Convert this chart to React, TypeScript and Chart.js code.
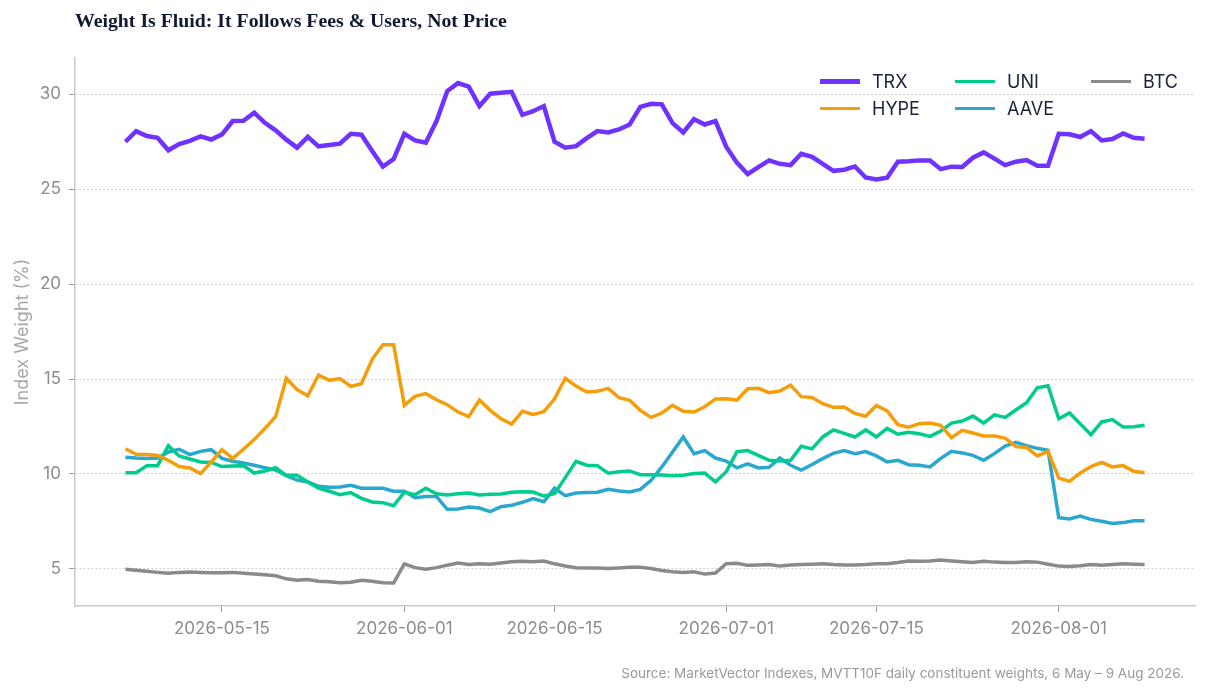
import { useEffect, useRef } from 'react'
import Chart from 'chart.js/auto'

const seriesNames = ['TRX', 'HYPE', 'UNI', 'AAVE', 'BTC']
const seriesColors = ['#7033FF', '#F59E0B', '#00CC8E', '#2AA7CE', '#8A8A8A']
const seriesWidths = [4.5, 3.5, 3.5, 3.5, 3.5]

const trx = [
  27.49, 28.05, 27.79, 27.7, 27.04, 27.37, 27.54, 27.77, 27.61, 27.88, 28.58, 28.6, 29.02, 28.49, 28.09, 27.6,
  27.18, 27.75, 27.25, 27.32, 27.39, 27.91, 27.86, 27.0, 26.18, 26.58, 27.91, 27.56, 27.44, 28.58, 30.16, 30.58,
  30.39, 29.37, 30.02, 30.07, 30.12, 28.91, 29.1, 29.37, 27.49, 27.18, 27.26, 27.68, 28.05, 27.98, 28.14, 28.4,
  29.33, 29.49, 29.46, 28.47, 27.98, 28.68, 28.4, 28.58, 27.23, 26.39, 25.79, 26.16, 26.51, 26.33, 26.26, 26.86,
  26.7, 26.32, 25.96, 26.02, 26.19, 25.61, 25.51, 25.6, 26.44, 26.46, 26.51, 26.51, 26.05, 26.18, 26.16, 26.65,
  26.93, 26.6, 26.26, 26.44, 26.53, 26.23, 26.23, 27.91, 27.88, 27.74, 28.05, 27.56, 27.63, 27.93, 27.7, 27.65,
]
const hype = [
  11.33, 11.04, 11.02, 10.98, 10.72, 10.39, 10.32, 10.02, 10.63, 11.28, 10.82, 11.3, 11.81, 12.39, 13.02, 15.04,
  14.44, 14.12, 15.21, 14.93, 15.02, 14.61, 14.75, 16.04, 16.81, 16.81, 13.61, 14.09, 14.23, 13.91, 13.65, 13.26,
  13.02, 13.89, 13.35, 12.91, 12.63, 13.3, 13.14, 13.28, 13.96, 15.04, 14.63, 14.32, 14.35, 14.51, 14.02, 13.88,
  13.35, 12.98, 13.21, 13.61, 13.3, 13.26, 13.54, 13.95, 13.96, 13.89, 14.49, 14.51, 14.28, 14.37, 14.68, 14.07,
  14.03, 13.7, 13.51, 13.53, 13.19, 13.04, 13.61, 13.32, 12.6, 12.46, 12.65, 12.68, 12.56, 11.91, 12.3, 12.16,
  12.0, 12.0, 11.89, 11.44, 11.4, 10.95, 11.19, 9.79, 9.61, 10.05, 10.39, 10.61, 10.37, 10.44, 10.14, 10.07,
]
const uni = [
  10.07, 10.07, 10.44, 10.44, 11.49, 10.95, 10.79, 10.63, 10.61, 10.39, 10.42, 10.44, 10.05, 10.16, 10.33, 9.93,
  9.93, 9.58, 9.26, 9.09, 8.91, 9.02, 8.72, 8.53, 8.49, 8.33, 9.04, 8.91, 9.25, 8.96, 8.89, 8.96,
  9.0, 8.89, 8.93, 8.95, 9.04, 9.07, 9.05, 8.84, 8.96, 9.81, 10.67, 10.46, 10.44, 10.04, 10.12, 10.16,
  9.96, 9.96, 9.95, 9.91, 9.93, 10.02, 10.05, 9.58, 10.12, 11.18, 11.23, 10.98, 10.72, 10.68, 10.72, 11.46,
  11.32, 11.95, 12.32, 12.14, 11.95, 12.32, 11.96, 12.4, 12.09, 12.19, 12.12, 11.98, 12.26, 12.68, 12.79, 13.05,
  12.68, 13.11, 12.98, 13.37, 13.75, 14.54, 14.65, 12.91, 13.21, 12.65, 12.07, 12.74, 12.86, 12.47, 12.49, 12.56,
]
const aave = [
  10.88, 10.84, 10.82, 10.84, 11.16, 11.3, 11.02, 11.19, 11.28, 10.82, 10.67, 10.58, 10.46, 10.33, 10.21, 9.91,
  9.68, 9.58, 9.35, 9.3, 9.32, 9.4, 9.25, 9.25, 9.25, 9.09, 9.09, 8.75, 8.81, 8.81, 8.14, 8.16,
  8.26, 8.21, 8.02, 8.28, 8.35, 8.51, 8.7, 8.54, 9.25, 8.86, 9.0, 9.02, 9.04, 9.19, 9.11, 9.05,
  9.19, 9.67, 10.37, 11.16, 11.95, 11.07, 11.23, 10.84, 10.68, 10.32, 10.53, 10.32, 10.35, 10.84, 10.46, 10.21,
  10.5, 10.81, 11.09, 11.23, 11.07, 11.18, 10.95, 10.63, 10.72, 10.49, 10.46, 10.37, 10.82, 11.19, 11.11, 10.98,
  10.72, 11.07, 11.47, 11.67, 11.49, 11.35, 11.25, 7.7, 7.63, 7.79, 7.61, 7.51, 7.39, 7.44, 7.54, 7.54,
]
const btc = [
  4.98, 4.93, 4.88, 4.82, 4.77, 4.82, 4.84, 4.82, 4.8, 4.8, 4.82, 4.77, 4.73, 4.69, 4.64, 4.48,
  4.4, 4.44, 4.35, 4.33, 4.28, 4.3, 4.4, 4.35, 4.28, 4.26, 5.27, 5.07, 4.98, 5.07, 5.2, 5.31,
  5.24, 5.27, 5.25, 5.31, 5.38, 5.4, 5.38, 5.42, 5.27, 5.16, 5.07, 5.05, 5.05, 5.02, 5.05, 5.09,
  5.09, 5.02, 4.92, 4.85, 4.81, 4.85, 4.73, 4.79, 5.28, 5.3, 5.19, 5.21, 5.23, 5.15, 5.21, 5.23,
  5.25, 5.27, 5.23, 5.21, 5.21, 5.23, 5.27, 5.28, 5.34, 5.42, 5.4, 5.42, 5.47, 5.42, 5.38, 5.34,
  5.4, 5.36, 5.34, 5.34, 5.38, 5.36, 5.25, 5.15, 5.13, 5.17, 5.23, 5.19, 5.23, 5.28, 5.25, 5.23,
]
const seriesValues = [trx, hype, uni, aave, btc]

// x is days since 6 May
const xTickDays = [9, 26, 40, 56, 70, 87]
const xTickLabels = ['2026-05-15', '2026-06-01', '2026-06-15', '2026-07-01', '2026-07-15', '2026-08-01']
const yTicks = [5, 10, 15, 20, 25, 30]

const titleText = 'Weight Is Fluid: It Follows Fees & Users, Not Price'
const sourceText = 'Source: MarketVector Indexes, MVTT10F daily constituent weights, 6 May – 9 Aug 2026.'

const uiFont = 'Inter, sans-serif'
const axisColor = '#C9C9C9'
const tickTextColor = '#8C8C8C'

function App() {
  const canvasRef = useRef<HTMLCanvasElement | null>(null)

  useEffect(() => {
    if (!canvasRef.current) {
      return undefined
    }

    const chart = new Chart(canvasRef.current, {
      type: 'line',
      data: {
        datasets: seriesNames.map((name, s) => ({
          label: name,
          data: seriesValues[s].map((value, day) => ({ x: day, y: value })),
          borderColor: seriesColors[s],
          backgroundColor: seriesColors[s],
          borderWidth: seriesWidths[s],
          pointRadius: 0,
          tension: 0,
        })),
      },
      options: {
        animation: false,
        responsive: false,
        layout: { padding: { top: 58, right: 13, left: 0, bottom: 0 } },
        plugins: {
          legend: { display: false },
          tooltip: { enabled: false },
        },
        scales: {
          x: {
            type: 'linear',
            min: -4.7,
            max: 99.7,
            afterBuildTicks: (scale) => {
              scale.ticks = xTickDays.map((day) => ({ value: day }))
            },
            afterFit: (scale) => {
              scale.height = 88
            },
            ticks: {
              autoSkip: false,
              maxRotation: 0,
              padding: 7,
              color: tickTextColor,
              font: { family: uiFont, size: 17 },
              callback: (value) => xTickLabels[xTickDays.indexOf(Number(value))] ?? '',
            },
            border: { color: axisColor, width: 1.5 },
            grid: { drawOnChartArea: false, drawTicks: true, tickLength: 6, tickColor: '#9A9A9A', tickWidth: 1 },
          },
          y: {
            min: 3.05,
            max: 31.9,
            afterBuildTicks: (scale) => {
              scale.ticks = yTicks.map((value) => ({ value }))
            },
            afterFit: (scale) => {
              scale.width = 75
            },
            title: {
              display: true,
              text: 'Index Weight (%)',
              color: '#A8A8A8',
              font: { family: uiFont, size: 18 },
              padding: { top: 12, bottom: 0 },
            },
            ticks: {
              padding: 8,
              color: tickTextColor,
              font: { family: uiFont, size: 17 },
            },
            border: { color: axisColor, width: 1.5, dash: [1.5, 2.5] },
            grid: {
              color: '#C4C4C4',
              lineWidth: 1,
              tickColor: '#9A9A9A',
              tickLength: 6,
              tickBorderDash: [],
            },
          },
        },
      },
    })

    return () => {
      chart.destroy()
    }
  }, [])

  return (
    <div style={{ position: 'relative', width: 1208, height: 694, margin: -8, background: '#fff', overflow: 'hidden' }}>
      <canvas ref={canvasRef} width={1208} height={694} style={{ display: 'block' }} />
      <div
        style={{
          position: 'absolute',
          left: 75,
          top: 9,
          color: '#101A33',
          font: 'bold 19.8px "Liberation Serif", serif',
          whiteSpace: 'nowrap',
        }}
      >
        {titleText}
      </div>
      <div
        style={{
          position: 'absolute',
          right: 24,
          top: 665,
          color: '#9A9A9A',
          font: `13.5px ${uiFont}`,
          whiteSpace: 'nowrap',
        }}
      >
        {sourceText}
      </div>
      <div
        style={{
          position: 'absolute',
          left: 820,
          top: 68,
          display: 'grid',
          gridAutoFlow: 'column',
          gridTemplateRows: '27px 27px',
          gridTemplateColumns: '135px 136px 90px',
          color: '#1B2238',
          font: `18px ${uiFont}`,
        }}
      >
        {seriesNames.map((name, s) => (
          <div key={name} style={{ display: 'flex', alignItems: 'center' }}>
            <span
              style={{
                display: 'inline-block',
                width: 40,
                height: seriesWidths[s],
                marginRight: 12,
                background: seriesColors[s],
              }}
            />
            {name}
          </div>
        ))}
      </div>
    </div>
  )
}

export default App
